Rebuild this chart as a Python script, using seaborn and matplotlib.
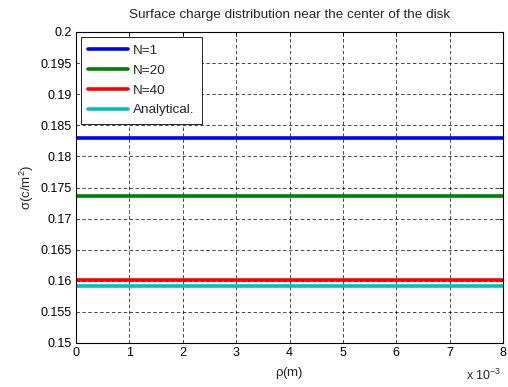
import matplotlib
matplotlib.use("Agg")
import matplotlib.pyplot as plt
import numpy as np
import pandas as pd
import seaborn as sns

# values
rho = [0.0, 0.008]                    # metres
sigma_n1 = [0.1829, 0.1829]
sigma_n20 = [0.1737, 0.1737]
sigma_n40 = [0.1601, 0.1601]
sigma_analytical = [0.1592, 0.1592]
labels = ["N=1", "N=20", "N=40", "Analytical."]
colours = ["#0000ff", "#008000", "#ff0000", "#00bfbf"]

x_ticks = [0, 1, 2, 3, 4, 5, 6, 7, 8]
y_ticks = [0.15, 0.155, 0.16, 0.165, 0.17, 0.175, 0.18, 0.185, 0.19, 0.195, 0.2]

frames = []
for lab, vals in zip(labels, [sigma_n1, sigma_n20, sigma_n40, sigma_analytical]):
    frames.append(pd.DataFrame({"rho": rho, "sigma": vals, "series": lab}))
df = pd.concat(frames, ignore_index=True)

sns.set_style("white")
plt.rcParams["font.family"] = ["Liberation Sans", "DejaVu Sans"]
plt.rcParams["font.size"] = 9

fig = plt.figure(figsize=(5.08, 3.87), dpi=100)
ax = fig.add_axes([76 / 508, 1 - 343 / 387, (503 - 76) / 508, (343 - 32) / 387])

sns.lineplot(data=df, x="rho", y="sigma", hue="series", hue_order=labels,
             palette=colours, linewidth=2.6, ax=ax)

ax.set_xlim(0, 0.008)
ax.set_ylim(0.15, 0.2)
ax.set_xticks([t * 1e-3 for t in x_ticks])
ax.set_xticklabels([str(t) for t in x_ticks])
ax.set_yticks(y_ticks)
ax.set_yticklabels(["%g" % t for t in y_ticks])
ax.grid(True, color="black", linestyle=(0, (5, 3.5)), linewidth=0.5)
ax.set_axisbelow(True)
ax.tick_params(direction="in", top=True, right=True, length=3, width=0.6,
               labelsize=9, colors="black", pad=3)
for s in ax.spines.values():
    s.set_color("black")
    s.set_linewidth(0.8)

ax.set_xlabel(r"$\mathregular{\rho}$(m)", fontsize=9.5, labelpad=4)
ax.set_ylabel(r"$\mathregular{\sigma (c/m^2)}$", fontsize=9.5, labelpad=3)
ax.set_title("Surface charge distribution near the center of the disk",
             fontsize=9.7, pad=10)
fig.text(466 / 508, 1 - 380 / 387, r"x 10$^{\mathregular{-3}}$", fontsize=9)

leg = ax.legend(loc="upper left", frameon=True, fancybox=False,
                handlelength=2.95, borderpad=0.55, labelspacing=0.56,
                handletextpad=0.4, borderaxespad=0.35, fontsize=9.7)
leg.get_frame().set_edgecolor("black")
leg.get_frame().set_linewidth(0.6)
leg.get_frame().set_alpha(1)

fig.savefig("out.png", dpi=100)
